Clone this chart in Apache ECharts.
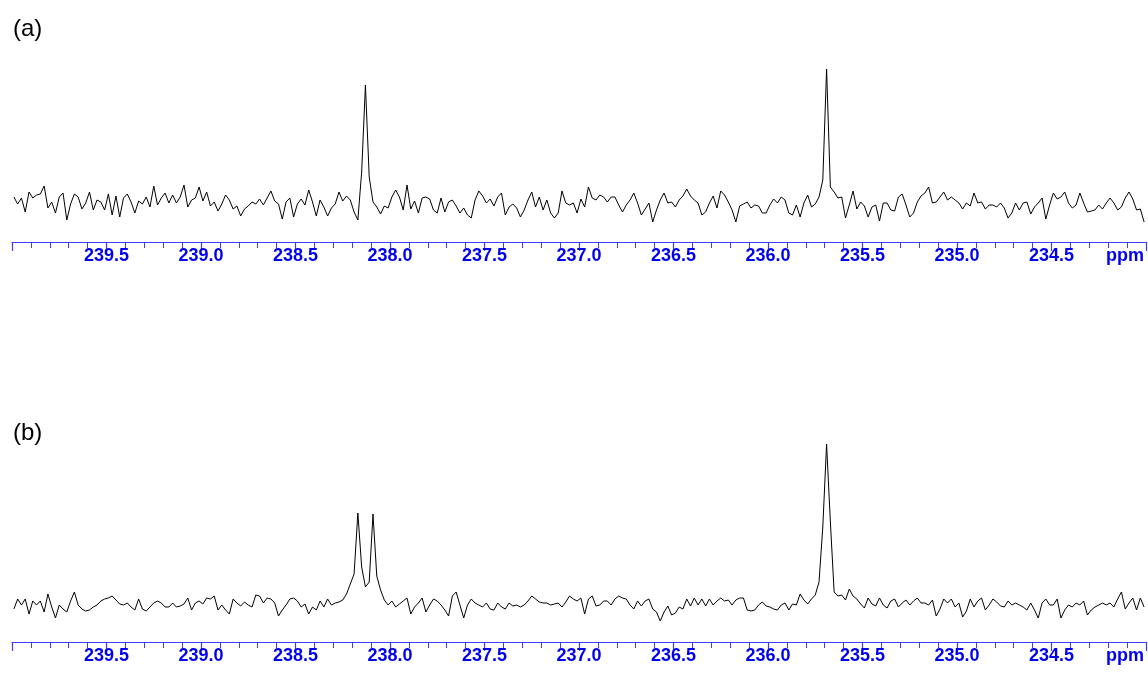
<!DOCTYPE html>
<html><head><meta charset="utf-8">
<script src="https://cdn.jsdelivr.net/npm/echarts@6/dist/echarts.min.js"></script>
<style>html,body{margin:0;padding:0;background:#fff}#c{width:1148px;height:673px}</style>
</head><body><div id="c"></div>
<script>
// ---- data ----
const panelLabels = ['(a)', '(b)'];
const unitLabel = 'ppm';
const ppmStart = 239.99;   // first sample (ppm)
const ppmStep = 0.02;      // sample spacing (ppm), decreasing
const axisMin = 234.0, axisMax = 240.0, tickStep = 0.5;

// spectrum (a): intensity per sample
const specA = [
45,38,44,30,50,44,47,48,56,34,
40,29,45,49,22,38,48,45,33,39,
50,32,42,40,32,48,27,46,25,44,
48,40,29,41,38,45,35,56,37,44,
49,39,47,39,45,57,35,42,44,55,
41,50,36,40,31,38,47,42,33,36,
26,33,36,40,38,43,37,44,51,41,
38,23,40,44,25,38,43,37,52,40,
26,42,35,26,34,38,50,41,46,42,
30,22,70,157,65,40,35,28,36,34,
45,52,45,32,57,33,41,29,44,45,
43,32,29,44,30,40,42,36,29,34,
27,24,42,51,46,39,43,36,45,49,
27,35,38,34,25,32,42,50,35,45,
32,42,29,24,29,51,39,37,39,29,
43,35,55,44,42,47,45,40,45,45,
37,30,37,42,49,39,27,33,39,20,
32,42,49,39,40,35,42,46,53,46,
42,39,27,30,39,46,34,51,47,40,
32,20,36,38,40,34,37,36,29,29,
37,43,39,45,42,29,27,37,25,39,
47,35,38,45,62,173,55,50,44,45,
24,37,51,33,40,36,25,35,37,21,
39,39,32,31,45,48,37,25,29,40,
46,49,55,39,40,45,50,42,45,42,
39,33,39,36,49,39,40,33,37,37,
35,39,34,24,29,39,32,39,40,28,
35,39,44,23,37,49,43,45,50,39,
34,37,49,39,30,31,32,37,33,39,
44,39,32,35,44,50,43,32,33,20
];

// spectrum (b): intensity per sample
const specB = [
33,43,37,43,28,41,37,41,30,48,
35,24,37,33,30,41,50,37,33,31,
32,35,37,41,43,44,46,42,38,37,
39,35,32,43,33,31,35,39,41,39,
35,35,39,35,36,38,44,32,39,41,
38,44,43,46,32,37,32,28,43,39,
36,40,37,35,47,46,39,44,43,39,
26,32,37,43,44,41,35,38,28,35,
32,41,35,43,37,39,40,42,48,58,
68,129,75,55,60,128,66,52,42,37,
41,35,38,41,44,28,35,39,44,30,
37,43,41,37,32,26,46,50,37,24,
37,43,39,37,35,39,33,32,39,35,
33,39,36,37,35,37,41,46,43,40,
39,39,37,38,39,35,40,46,43,41,
44,28,43,46,36,37,41,41,37,43,
46,44,43,37,33,41,36,41,43,33,
30,21,30,36,27,29,35,33,43,36,
44,37,43,36,43,37,41,44,41,42,
37,42,44,44,32,31,32,37,40,36,
35,33,32,37,39,32,38,37,48,42,
38,43,47,60,115,198,120,50,46,47,
42,53,46,43,38,34,44,38,36,44,
37,34,41,43,35,39,42,37,41,44,
39,39,37,42,26,33,43,39,43,35,
39,25,31,43,35,41,44,32,37,43,
40,36,35,41,37,39,37,35,32,39,
32,24,39,43,37,37,43,24,32,37,
35,39,37,41,27,32,35,37,39,37,
39,35,43,50,33,39,44,32,44,35
];

// ---- build ----
function toPairs(arr) {
  return arr.map((v, i) => [+(ppmStart - i * ppmStep).toFixed(2), v]);
}
const labelBlue = '#0000f0';
const lineBlue = '#3c3cff';
const fontFam = 'Liberation Sans, Arial, Helvetica, sans-serif';

function makeX(gi) {
  return {
    type: 'value', gridIndex: gi, min: axisMin, max: axisMax, interval: tickStep,
    inverse: true,
    axisLine: { show: true, onZero: false, lineStyle: { color: lineBlue, width: 1.2 } },
    axisTick: { show: true, inside: false, length: 9, lineStyle: { color: lineBlue, width: 1.2 } },
    minorTick: { show: true, splitNumber: 5, length: 6, lineStyle: { color: lineBlue, width: 1 } },
    splitLine: { show: false }, minorSplitLine: { show: false },
    axisLabel: {
      show: true, margin: 5, color: labelBlue, fontSize: 18, fontWeight: 'bold', fontFamily: fontFam,
      showMinLabel: true, showMaxLabel: true, hideOverlap: false,
      formatter: function (v) {
        if (Math.abs(v - axisMax) < 1e-6) return '';
        if (Math.abs(v - axisMin) < 1e-6) return '{u|' + unitLabel + '}';
        return v.toFixed(1);
      },
      rich: { u: { color: labelBlue, fontSize: 18, fontWeight: 'bold', fontFamily: fontFam, padding: [0, 42, 0, 0] } }
    }
  };
}
function makeY(gi) {
  return { type: 'value', gridIndex: gi, min: 0, max: 200, show: false, splitLine: { show: false } };
}
function makeSeries(gi, arr) {
  return {
    type: 'line', xAxisIndex: gi, yAxisIndex: gi, data: toPairs(arr),
    showSymbol: false, symbol: 'none', clip: true,
    lineStyle: { color: '#000', width: 1 }, smooth: false
  };
}

const chart = echarts.init(document.getElementById('c'), null, { renderer: 'canvas' });
chart.setOption({
  animation: false,
  backgroundColor: '#fff',
  title: [
    { text: panelLabels[0], left: 8, top: 12, textStyle: { fontSize: 24, fontWeight: 'normal', color: '#000', fontFamily: fontFam } },
    { text: panelLabels[1], left: 8, top: 416, textStyle: { fontSize: 24, fontWeight: 'normal', color: '#000', fontFamily: fontFam } }
  ],
  grid: [
    { left: 12, right: 2, top: 42, height: 200 },
    { left: 12, right: 2, top: 442, height: 200 }
  ],
  xAxis: [makeX(0), makeX(1)],
  yAxis: [makeY(0), makeY(1)],
  series: [makeSeries(0, specA), makeSeries(1, specB)]
});
</script>
</body></html>
